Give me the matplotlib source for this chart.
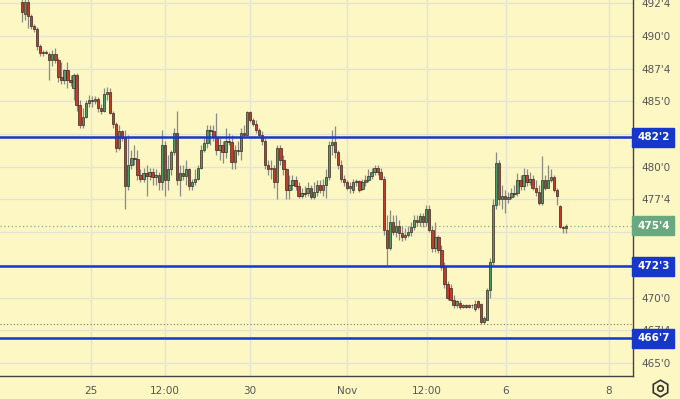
#!/usr/bin/env python3
# -*- coding: utf-8 -*-

"""Hourly candles with support/resistance levels, TradingView look"""

import numpy as np
import matplotlib
matplotlib.use('Agg')
import matplotlib.pyplot as plt
import matplotlib.transforms as mtransforms
from matplotlib.lines import Line2D

# OHLC values (price, cents per bushel)
opens = [
    492.6, 491.7, 492.6, 491.5, 490.8, 490.5, 489.2, 488.7, 488.8, 488.6,
    488.2, 488.6, 488.2, 486.9, 486.6, 487.4, 486.6, 486.0, 487.0, 484.7,
    483.2, 483.8, 484.9, 485.1, 485.0, 485.2, 484.5, 484.3, 485.6, 485.7,
    484.1, 483.3, 481.4, 482.7, 482.2, 478.5, 480.1, 480.7, 480.6, 479.4,
    479.1, 479.5, 479.3, 479.6, 479.2, 479.4, 478.8, 481.7, 479.0, 479.8,
    481.1, 482.6, 479.0, 479.5, 479.3, 479.8, 478.5, 478.8, 479.1, 479.9,
    481.3, 481.8, 482.8, 482.7, 482.3, 481.3, 481.7, 481.1, 482.0, 481.9,
    480.4, 481.3, 481.2, 482.6, 482.4, 484.2, 483.6, 483.3, 482.8, 482.4,
    482.0, 480.1, 479.8, 479.9, 478.8, 481.4, 480.5, 479.8, 478.2, 478.6,
    479.0, 478.5, 477.8, 478.0, 478.0, 478.4, 477.7, 478.1, 478.6, 478.2,
    478.6, 479.2, 481.7, 481.9, 481.1, 480.1, 479.1, 478.8, 478.4, 478.2,
    478.8, 478.9, 478.3, 478.8, 479.0, 479.3, 479.6, 479.9, 479.6, 479.1,
    475.2, 473.8, 475.8, 475.0, 475.5, 474.9, 474.6, 474.8, 475.0, 475.4,
    475.9, 475.8, 476.2, 475.8, 476.8, 475.2, 473.8, 474.6, 473.6, 472.3,
    471.0, 470.7, 469.8, 469.4, 469.6, 469.3, 469.4, 469.3, 469.4, 469.1,
    469.7, 469.5, 468.1, 468.3, 470.6, 472.7, 477.1, 480.3, 477.5, 477.8,
    477.5, 477.7, 478.0, 478.0, 479.0, 478.5, 479.4, 478.8, 479.1, 478.4,
    478.1, 477.2, 479.0, 478.4, 479.0, 479.2, 478.2, 477.0, 475.4, 475.3,
]
closes = [
    491.8, 492.6, 491.5, 490.8, 490.5, 489.2, 488.7, 488.8, 488.7, 488.2,
    488.6, 488.2, 486.9, 486.6, 487.4, 486.6, 486.5, 487.0, 484.7, 483.2,
    483.8, 484.9, 485.1, 485.0, 485.2, 484.5, 484.3, 485.6, 485.7, 484.1,
    483.3, 481.4, 482.7, 482.2, 478.5, 480.1, 480.7, 480.6, 479.4, 479.1,
    479.5, 479.3, 479.6, 479.2, 479.4, 478.8, 481.7, 479.0, 479.8, 481.1,
    482.6, 479.0, 479.5, 479.3, 479.8, 478.5, 478.8, 479.1, 479.9, 481.3,
    481.8, 482.8, 482.7, 482.3, 481.3, 481.7, 481.1, 482.0, 481.9, 480.4,
    481.3, 481.2, 482.6, 482.4, 484.2, 483.6, 483.3, 482.8, 482.4, 482.0,
    480.1, 479.8, 479.9, 478.8, 481.4, 480.5, 479.8, 478.2, 478.6, 479.0,
    478.5, 477.8, 478.0, 477.95, 478.4, 477.7, 478.1, 478.6, 478.2, 478.6,
    479.2, 481.7, 481.9, 481.1, 480.1, 479.1, 478.8, 478.4, 478.5, 478.8,
    478.9, 478.2, 478.8, 479.0, 479.3, 479.6, 479.9, 479.6, 479.1, 475.2,
    473.8, 475.8, 475.0, 475.5, 474.9, 474.6, 474.8, 475.0, 475.4, 475.9,
    475.8, 476.2, 475.8, 476.8, 475.2, 473.8, 474.6, 473.6, 472.3, 471.0,
    470.0, 469.8, 469.4, 469.7, 469.3, 469.4, 469.3, 469.4, 469.4, 469.5,
    469.3, 468.1, 468.4, 470.6, 472.7, 477.1, 480.3, 477.5, 477.8, 477.5,
    477.7, 478.0, 477.95, 479.0, 478.5, 479.4, 478.8, 479.1, 478.4, 478.1,
    477.2, 479.0, 478.4, 479.0, 479.2, 478.2, 477.8, 475.4, 475.3, 475.5,
]
highs = [
    493.1, 493.1, 493.0, 491.7, 490.9, 490.7, 489.4, 488.9, 488.9, 488.8,
    488.9, 489.1, 488.3, 488.0, 487.5, 488.0, 487.0, 487.2, 487.2, 485.1,
    484.5, 485.1, 485.5, 485.4, 485.4, 485.3, 484.8, 486.0, 486.1, 486.0,
    484.3, 483.4, 483.2, 482.8, 482.8, 482.4, 481.3, 481.7, 481.3, 479.8,
    479.9, 480.1, 479.9, 479.9, 479.8, 479.6, 482.8, 482.0, 480.9, 481.3,
    483.0, 484.3, 480.1, 480.1, 480.5, 479.9, 479.1, 479.8, 480.1, 481.7,
    482.2, 483.2, 483.2, 483.2, 484.1, 482.2, 482.0, 483.0, 482.6, 482.4,
    481.7, 482.0, 483.0, 483.2, 484.3, 484.3, 483.7, 483.6, 483.0, 482.7,
    482.2, 480.5, 480.5, 480.1, 481.7, 481.7, 480.9, 479.9, 479.4, 479.4,
    479.3, 478.8, 478.4, 478.5, 478.8, 478.6, 478.8, 479.0, 479.0, 479.1,
    479.8, 482.0, 482.8, 483.1, 481.3, 480.5, 479.4, 479.0, 478.8, 479.1,
    479.1, 479.0, 479.1, 479.4, 479.8, 479.9, 480.1, 480.1, 479.9, 479.3,
    476.3, 476.7, 476.3, 476.3, 475.9, 475.5, 475.3, 475.5, 475.8, 476.3,
    476.3, 476.5, 476.5, 477.1, 477.1, 475.5, 475.8, 474.8, 474.0, 472.7,
    471.3, 471.0, 470.2, 469.8, 469.8, 469.5, 469.5, 469.5, 469.5, 469.8,
    469.8, 469.6, 468.6, 470.7, 473.0, 477.5, 481.1, 480.5, 478.6, 478.2,
    478.1, 478.4, 478.6, 479.5, 479.4, 479.9, 479.8, 479.6, 479.4, 479.0,
    478.6, 480.8, 479.4, 480.1, 479.8, 479.4, 478.4, 477.1, 475.5, 475.6,
]
lows = [
    491.1, 491.2, 490.6, 490.5, 490.3, 488.9, 488.5, 488.5, 488.6, 486.6,
    487.7, 487.9, 486.5, 486.3, 486.3, 486.0, 486.2, 485.1, 484.3, 483.0,
    483.0, 483.7, 484.6, 484.6, 484.8, 484.2, 484.0, 484.2, 485.1, 484.0,
    483.0, 481.1, 481.3, 482.0, 476.8, 478.2, 479.8, 480.1, 479.0, 478.8,
    478.8, 477.8, 479.0, 478.6, 478.6, 478.2, 478.2, 477.8, 478.2, 479.4,
    480.9, 478.6, 477.8, 479.0, 478.6, 478.2, 478.2, 478.6, 479.0, 479.8,
    481.1, 481.4, 481.7, 482.0, 480.9, 480.5, 480.3, 480.7, 481.7, 479.8,
    479.8, 480.9, 480.5, 482.3, 482.3, 483.4, 483.1, 482.6, 482.3, 481.7,
    479.8, 479.4, 479.1, 478.4, 477.5, 480.1, 479.4, 477.5, 477.5, 478.2,
    478.2, 477.6, 477.6, 477.7, 477.8, 477.5, 477.5, 477.8, 478.0, 477.8,
    477.6, 479.0, 480.9, 480.7, 479.8, 478.8, 478.5, 478.2, 478.0, 478.0,
    478.5, 478.1, 478.2, 478.5, 478.8, 479.1, 479.4, 479.4, 479.0, 474.8,
    472.5, 473.6, 474.8, 474.6, 474.4, 474.3, 474.4, 474.6, 474.7, 475.2,
    475.5, 475.5, 475.4, 475.5, 475.0, 473.5, 473.5, 473.4, 472.1, 470.7,
    469.8, 469.7, 469.2, 469.2, 469.1, 469.2, 469.2, 469.2, 469.2, 469.0,
    469.1, 467.95, 467.95, 468.3, 470.0, 472.5, 476.8, 477.1, 476.8, 476.5,
    477.2, 477.5, 477.7, 477.8, 478.2, 478.2, 478.5, 478.6, 478.2, 477.8,
    477.1, 477.1, 478.2, 478.4, 478.8, 478.1, 477.1, 475.3, 474.9, 474.9,
]

levels = [482.25, 472.375, 466.875]      # blue horizontal lines
last_price = 475.5
session_low = 467.95
price_ticks = [492.5, 490.0, 487.5, 485.0, 482.5, 480.0, 477.5, 475.0,
               472.5, 470.0, 467.5, 465.0]
hidden_ticks = [482.5, 472.5]            # covered by level badges
time_labels = ['25', '12:00', '30', 'Nov', '12:00', '6', '8']
time_ticks = [22.7, 47.0, 75.0, 106.9, 133.2, 159.2, 193.1]


def eighths(p):
    """Format price like 482'2 (whole + eighths)"""
    whole = int(np.floor(p + 1e-9))
    return "%d'%d" % (whole, int(round((p - whole) * 8)))


BG = '#fdf7c4'
GRID = '#e4e4d6'
UP = '#4e9a6c'
DOWN = '#c23b2b'
EDGE = '#3a2a20'
BLUE = '#1637c9'

fig = plt.figure(figsize=(6.8, 3.99), dpi=100, facecolor=BG)
ax = fig.add_axes([0, 23 / 399, 633 / 680, 376 / 399], facecolor=BG)

o = np.array(opens)
c = np.array(closes)
h = np.array(highs)
l = np.array(lows)
x = np.arange(len(o))
up = c >= o

ax.vlines(x, l, h, color='#8a8a86', linewidth=0.9, zorder=2)
bottom = np.minimum(o, c)
height = np.maximum(np.abs(c - o), 0.06)
ax.bar(x[up], height[up], 0.78, bottom=bottom[up], color=UP,
       edgecolor=EDGE, linewidth=0.5, zorder=3)
ax.bar(x[~up], height[~up], 0.78, bottom=bottom[~up], color=DOWN,
       edgecolor=EDGE, linewidth=0.5, zorder=3)

for lv in levels:
    ax.axhline(lv, color=BLUE, linewidth=1.8, zorder=4)
ax.axhline(last_price, color='#7fae8c', linewidth=0.9, linestyle=(0, (1, 2)), zorder=1)
ax.axhline(session_low, color='#777777', linewidth=0.8, linestyle=(0, (1, 2)), zorder=1)

ax.set_xlim(-7.2, 201)
ax.set_ylim(464.0, 492.75)

ax.set_yticks(price_ticks)
ax.set_yticklabels(['' if p in hidden_ticks else eighths(p) for p in price_ticks])
ax.yaxis.tick_right()
ax.set_xticks(time_ticks)
ax.set_xticklabels(time_labels)
ax.tick_params(axis='both', length=0, labelsize=7.5, labelcolor='#555555')
ax.tick_params(axis='y', pad=6)
ax.tick_params(axis='x', pad=7)
ax.grid(color=GRID, linewidth=1.0, zorder=0)
ax.set_axisbelow(True)

for side in ['top', 'left']:
    ax.spines[side].set_visible(False)
for side in ['right', 'bottom']:
    ax.spines[side].set_color('#444444')
    ax.spines[side].set_linewidth(1.0)

# price badges on the scale
trans = mtransforms.blended_transform_factory(ax.transAxes, ax.transData)
trans = trans + mtransforms.ScaledTranslation(4 / 100, 0, fig.dpi_scale_trans)
badges = [(lv, BLUE) for lv in levels] + [(last_price, '#6aa97f')]
for val, col in badges:
    ax.text(1.0, val, eighths(val), transform=trans, ha='left',
            va='center', color='white', fontsize=7.5, fontweight='bold',
            clip_on=False, zorder=10,
            bbox=dict(boxstyle='square,pad=0.45', facecolor=col, edgecolor=col))

# settings icon bottom right
icon_x, icon_y = 660 / 680, 1 - 388 / 399
fig.add_artist(Line2D([icon_x], [icon_y], transform=fig.transFigure, marker='h',
                      markersize=12, markerfacecolor='none',
                      markeredgecolor='#333333', markeredgewidth=1.2))
fig.add_artist(Line2D([icon_x], [icon_y], transform=fig.transFigure, marker='o',
                      markersize=4, markerfacecolor='none',
                      markeredgecolor='#333333', markeredgewidth=1.2))

fig.savefig('out.png', dpi=100, facecolor=BG)
